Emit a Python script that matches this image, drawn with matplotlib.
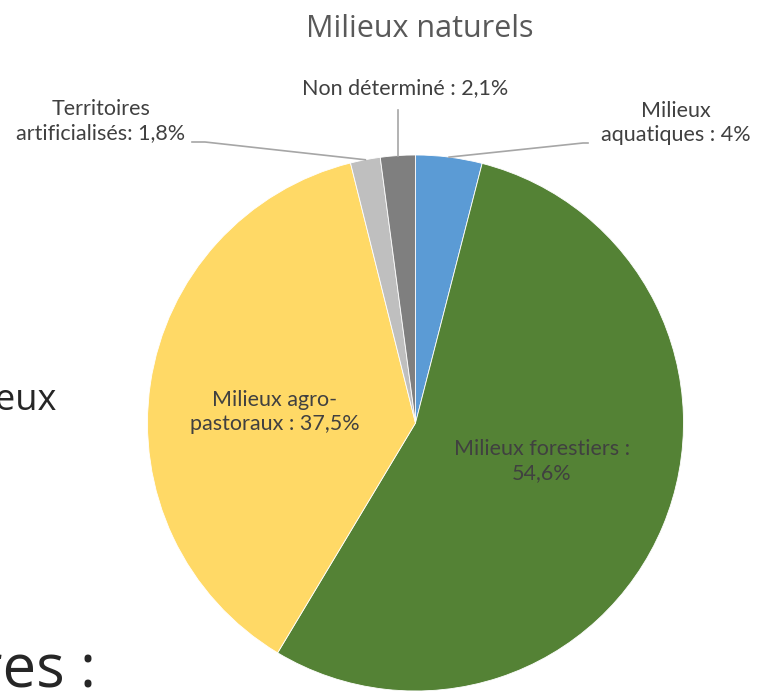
import numpy as np
import matplotlib
matplotlib.use("Agg")
import matplotlib.pyplot as plt

plt.rcParams['font.family'] = ['Lato', 'DejaVu Sans']

title = "Milieux naturels"
categories = ["Milieux aquatiques", "Milieux forestiers", "Milieux agro-pastoraux",
              "Territoires artificialisés", "Non déterminé"]
values = [4.0, 54.6, 37.5, 1.8, 2.1]
label_texts = ["Milieux\naquatiques : 4%", "Milieux forestiers :\n54,6%",
               "Milieux agro-\npastoraux : 37,5%", "Territoires\nartificialisés: 1,8%",
               "Non déterminé : 2,1%"]
colors = ["#5B9BD5", "#548235", "#FFD966", "#BFBFBF", "#7F7F7F"]

W, H = 759, 691
fig = plt.figure(figsize=(W / 100, H / 100), dpi=100)
ax = fig.add_axes([0, 0, 1, 1])

cx, cy, R = 415.5, H - 423, 268
wedges, _ = ax.pie(values, colors=colors, startangle=90, counterclock=False,
                   center=(cx, cy), radius=R, frame=True,
                   wedgeprops=dict(edgecolor='white', linewidth=0.6))
ax.set_xlim(0, W)
ax.set_ylim(0, H)
ax.set_aspect('equal')
ax.axis('off')

txt_col = "#404040"
line_col = "#A6A6A6"
fs = 15.5

def edge_point(w):
    mid = np.deg2rad((w.theta1 + w.theta2) / 2)
    return cx + R * np.cos(mid), cy + R * np.sin(mid)

# Title
ax.text(420, H - 37, title, ha='center', va='baseline', fontsize=22, color="#595959",
        family=['Open Sans', 'DejaVu Sans'])

# Inside labels
ax.text(275, H - 412, label_texts[2], ha='center', va='center', fontsize=fs,
        color=txt_col, linespacing=1.25)
ax.text(542, H - 461, label_texts[1], ha='center', va='center', fontsize=fs,
        color=txt_col, linespacing=1.25)

# Aquatiques
ax.text(676, H - 123, label_texts[0], ha='center', va='center', fontsize=fs,
        color=txt_col, linespacing=1.25)
px, py = edge_point(wedges[0])
ax.plot([588, 583, px], [H - 143, H - 143, py], color=line_col, lw=1.2)

# Territoires artificialisés
ax.text(101, H - 121, label_texts[3], ha='center', va='center', fontsize=fs,
        color=txt_col, linespacing=1.25)
px, py = edge_point(wedges[3])
ax.plot([192, 205, px], [H - 142, H - 142, py], color=line_col, lw=1.2)

# Non déterminé
ax.text(405, H - 88, label_texts[4], ha='center', va='center', fontsize=fs,
        color=txt_col)
px, py = edge_point(wedges[4])
ax.plot([px, px], [H - 110, py], color=line_col, lw=1.2)

# Background slide text fragments (partially cut by the crop)
ax.text(56, H - 410, "eux", ha='right', va='baseline', fontsize=26, color="#262626",
        family=['Open Sans', 'DejaVu Sans'])
ax.text(96, H - 687, "res :", ha='right', va='baseline', fontsize=43, color="#262626",
        family=['Open Sans', 'DejaVu Sans'])

fig.savefig("out.png", dpi=100)
